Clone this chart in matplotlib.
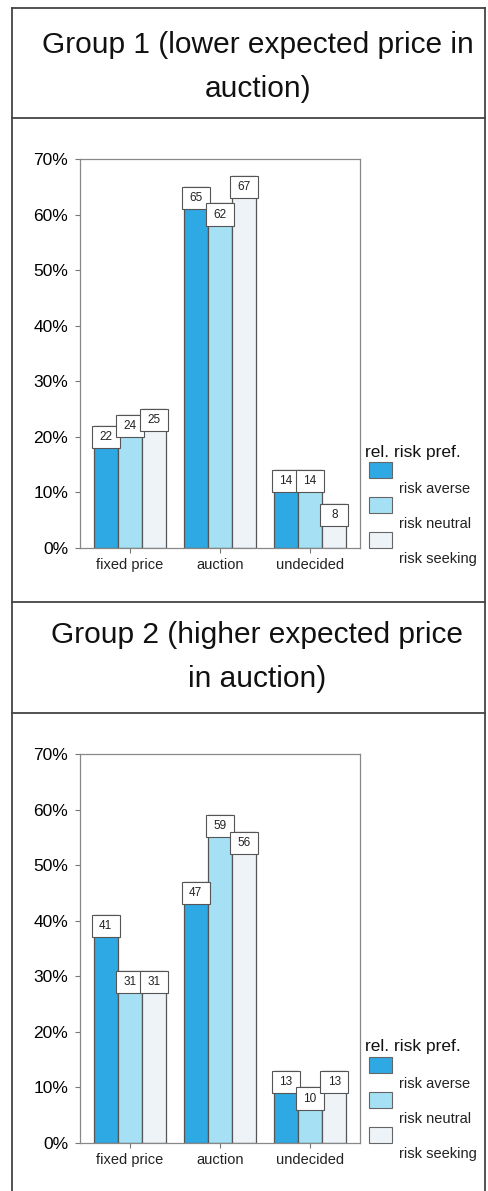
import numpy as np
import matplotlib
matplotlib.use("Agg")
import matplotlib.pyplot as plt
from matplotlib.lines import Line2D
from matplotlib.patches import Rectangle

plt.rcParams["font.family"] = ["Liberation Sans", "DejaVu Sans"]

categories = ["fixed price", "auction", "undecided"]
series_names = ["risk averse", "risk neutral", "risk seeking"]
colors = ["#2fa9e3", "#a6e0f5", "#eef3f7"]

g1_averse = [22, 65, 14]
g1_neutral = [24, 62, 14]
g1_seeking = [25, 67, 8]

g2_averse = [41, 47, 13]
g2_neutral = [31, 59, 10]
g2_seeking = [31, 56, 13]

yticks = [0, 10, 20, 30, 40, 50, 60, 70]
ytick_labels = ["0%", "10%", "20%", "30%", "40%", "50%", "60%", "70%"]

titles = ["Group 1 (lower expected price in\nauction)",
          "Group 2 (higher expected price\nin auction)"]

W, H = 488, 1191


def fx(px):
    return px / W


def fy(py):
    return 1 - py / H


def draw_panel(fig, ax, groups, legend_top):
    x = np.arange(len(categories))
    width = 0.27
    for i, (vals, col) in enumerate(zip(groups, colors)):
        pos = x + (i - 1) * width
        ax.bar(pos, vals, width, color=col, edgecolor="#555555", linewidth=0.9, zorder=2)
        # value boxes sitting at the top of each bar
        for p, v in zip(pos, vals):
            ax.add_patch(Rectangle((p - 0.155, v - 4), 0.31, 4, facecolor="white",
                                   edgecolor="#555555", linewidth=0.8, zorder=3))
            ax.text(p, v - 2, str(v), ha="center", va="center", fontsize=8.5,
                    color="#222222", zorder=4)

    ax.set_xlim(-0.556, 2.556)
    ax.set_ylim(0, 70)
    ax.set_yticks(yticks)
    ax.set_yticklabels(ytick_labels, fontsize=12.5)
    ax.set_xticks(x)
    ax.set_xticklabels(categories, fontsize=10.5, color="#222222")
    ax.tick_params(axis="both", direction="out", length=3.5, color="#777777", width=0.8)
    ax.tick_params(axis="y", pad=5)
    ax.tick_params(axis="x", pad=4)
    for s in ax.spines.values():
        s.set_color("#888888")
        s.set_linewidth(0.9)

    # legend drawn by hand: label text sits below each swatch
    fig.text(fx(365), fy(legend_top), "rel. risk pref.", fontsize=12.5,
             ha="left", va="center", color="#111111")
    for k, (name, col) in enumerate(zip(series_names, colors)):
        top = legend_top + 10 + k * 35
        fig.add_artist(Rectangle((fx(369), fy(top + 16)), fx(23), 16 / H,
                                 transform=fig.transFigure, facecolor=col,
                                 edgecolor="#666666", linewidth=0.8))
        fig.text(fx(399), fy(top + 27), name, fontsize=10.5, ha="left",
                 va="center", color="#222222")


def main():
    fig = plt.figure(figsize=(W / 100, H / 100), dpi=100)

    # frame lines around the title and chart cells
    lc = "#444444"
    for yy in [8, 118, 602, 713]:
        fig.add_artist(Line2D([fx(12), fx(485)], [fy(yy), fy(yy)], color=lc, linewidth=1.3))
    for xx in [12, 485]:
        fig.add_artist(Line2D([fx(xx), fx(xx)], [fy(8), 0], color=lc, linewidth=1.3))

    fig.text(fx(258), fy(67), titles[0], ha="center", va="center", fontsize=21.5,
             linespacing=1.7, color="#111111")
    fig.text(fx(257), fy(657), titles[1], ha="center", va="center", fontsize=21.5,
             linespacing=1.7, color="#111111")

    ax1 = fig.add_axes([fx(80), fy(548), 280 / W, 389 / H])
    draw_panel(fig, ax1, [g1_averse, g1_neutral, g1_seeking], 452)

    ax2 = fig.add_axes([fx(80), fy(1143), 280 / W, 389 / H])
    draw_panel(fig, ax2, [g2_averse, g2_neutral, g2_seeking], 1047)

    fig.savefig("out.png", dpi=100)
    plt.close(fig)


if __name__ == '__main__':
    main()
